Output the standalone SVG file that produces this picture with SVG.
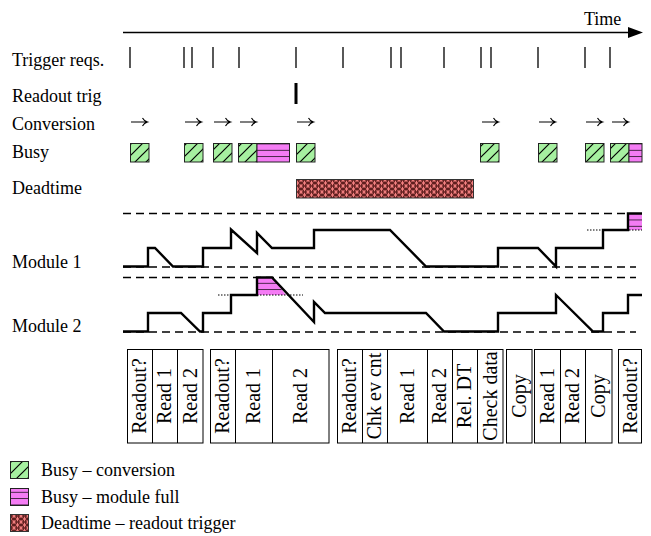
<svg xmlns="http://www.w3.org/2000/svg" width="651" height="536" viewBox="0 0 651 536" font-family="'Liberation Serif', 'DejaVu Serif', serif">
<style>
.box{font-size:20px;text-anchor:middle;font-family:'Liberation Serif','DejaVu Serif',serif}
.tick{stroke:#000;stroke-width:1.3}
.dash{stroke:#000;stroke-width:1.3;stroke-dasharray:8 5;fill:none}
.sig{stroke:#000;stroke-width:2.4;fill:none;stroke-linejoin:miter}
.cell{fill:#fff;stroke:#000;stroke-width:1}
.div{stroke:#000;stroke-width:1}
.conv{stroke:#222;stroke-width:1}
.arr{stroke:#000;stroke-width:1.1;fill:none}
</style>
<defs>
<pattern id="pg" patternUnits="userSpaceOnUse" width="11" height="11">
<rect width="11" height="11" fill="#a6f0a0"/>
<path d="M0,11 L11,0 M-2,2 L2,-2 M9,13 L13,9" stroke="#000" stroke-width="1.2"/>
</pattern>
<pattern id="pp" patternUnits="userSpaceOnUse" y="143.5" width="10" height="6.333">
<rect width="10" height="6.333" fill="#f47cf4"/>
<line x1="0" y1="0" x2="10" y2="0" stroke="#000" stroke-width="1.4"/>
</pattern>
<pattern id="pd" patternUnits="userSpaceOnUse" width="7" height="6">
<rect width="7" height="6" fill="#f48080"/>
<circle cx="0" cy="0" r="3" fill="none" stroke="#4a1010" stroke-width="0.8"/>
<circle cx="7" cy="0" r="3" fill="none" stroke="#4a1010" stroke-width="0.8"/>
<circle cx="3.5" cy="3" r="3" fill="none" stroke="#4a1010" stroke-width="0.8"/>
<circle cx="0" cy="6" r="3" fill="none" stroke="#4a1010" stroke-width="0.8"/>
<circle cx="7" cy="6" r="3" fill="none" stroke="#4a1010" stroke-width="0.8"/>
</pattern>
<path id="ar" d="M0,0H16 M11.5,-4Q13,-1 16.5,0Q13,1 11.5,4"/>
</defs>

<g id="time-axis">
<line x1="123" y1="32.5" x2="630" y2="32.5" stroke="#000" stroke-width="1.5"/>
<polygon points="628,27 643,32.5 628,38" fill="#000"/>
<text x="584" y="25" font-size="18" font-family="Liberation Serif, serif">Time</text>
</g>

<g id="labels">
<text x="12" y="66" font-size="18" font-family="Liberation Serif, serif">Trigger reqs.</text>
<text x="12" y="102" font-size="18" font-family="Liberation Serif, serif">Readout trig</text>
<text x="12" y="130" font-size="18" font-family="Liberation Serif, serif">Conversion</text>
<text x="12" y="158" font-size="18" font-family="Liberation Serif, serif">Busy</text>
<text x="12" y="194" font-size="18" font-family="Liberation Serif, serif">Deadtime</text>
<text x="12" y="268" font-size="18" font-family="Liberation Serif, serif">Module 1</text>
<text x="12" y="332" font-size="18" font-family="Liberation Serif, serif">Module 2</text>
</g>

<g id="trigger-reqs">
<path class="tick" d="M130,47V68 M184,47V68 M192,47V68 M213,47V68 M239,47V68 M296,47V68 M343,47V68 M391,47V68 M401,47V68 M444,47V68 M481,47V68 M491,47V68 M538,47V68 M585,47V68 M610,47V68"/>
</g>

<g id="readout-trig">
<rect x="294.5" y="83" width="3" height="21" fill="#000"/>
</g>

<g id="conversion" class="arr">
<use href="#ar" x="131" y="122"/>
<use href="#ar" x="185" y="122"/>
<use href="#ar" x="214" y="122"/>
<use href="#ar" x="240" y="122"/>
<use href="#ar" x="297" y="122"/>
<use href="#ar" x="482" y="122"/>
<use href="#ar" x="539" y="122"/>
<use href="#ar" x="586" y="122"/>
<use href="#ar" x="612" y="122"/>
</g>

<g id="busy">
<rect class="conv" x="130.5" y="143.5" width="18.5" height="18.5" fill="url(#pg)"/>
<rect class="conv" x="184.5" y="143.5" width="18.5" height="18.5" fill="url(#pg)"/>
<rect class="conv" x="213.5" y="143.5" width="18.5" height="18.5" fill="url(#pg)"/>
<rect class="conv" x="238.5" y="143.5" width="18.5" height="18.5" fill="url(#pg)"/>
<rect class="conv" x="257" y="143.5" width="32.5" height="18.5" fill="url(#pp)"/>
<rect class="conv" x="296.5" y="143.5" width="18.5" height="18.5" fill="url(#pg)"/>
<rect class="conv" x="480.5" y="143.5" width="18.5" height="18.5" fill="url(#pg)"/>
<rect class="conv" x="538.5" y="143.5" width="18.5" height="18.5" fill="url(#pg)"/>
<rect class="conv" x="585.5" y="143.5" width="18.5" height="18.5" fill="url(#pg)"/>
<rect class="conv" x="610.5" y="143.5" width="18.5" height="18.5" fill="url(#pg)"/>
<rect class="conv" x="629" y="143.5" width="13" height="18.5" fill="url(#pp)"/>
</g>

<g id="deadtime">
<rect x="296.5" y="179.5" width="177" height="18.5" fill="url(#pd)" stroke="#333" stroke-width="1"/>
</g>

<g id="module-1">
<path class="dash" d="M123,213.5H628 M123,267H636"/>
<rect x="628" y="213" width="14" height="17" fill="url(#pp)"/>
<line x1="587" y1="230" x2="642" y2="230" stroke="#000" stroke-width="1" stroke-dasharray="1.5 1.5"/>
<path class="sig" d="M123,266.5H148V248H155L173,266.5H203V248H231V229.5L257,253V233L272,248H314V230H390L426,266.5H498V248H538L556,266.5V248H603V230H628V213.5H642"/>
</g>

<g id="module-2">
<path class="dash" d="M123,277.5H636 M123,332H636"/>
<polygon points="257,277 272,277 286,295 257,295" fill="url(#pp)"/>
<line x1="218" y1="295" x2="303" y2="295" stroke="#000" stroke-width="1" stroke-dasharray="1.5 1.5"/>
<path class="sig" d="M123,331.5H148V313H181L200,331.5H203V313H231V295H257V277.5H272L314,322V302L325,313H426L444,331.5H498V313H556V295L593,331.5H603V313H628V295H642"/>
</g>

<g id="steps-1">
<rect class="cell" x="127.5" y="349.5" width="75.5" height="93.5"/>
<path class="div" d="M152.5,349.5V443 M177.5,349.5V443"/>
<text class="box" transform="translate(146,396) rotate(-90)">Readout?</text>
<text class="box" transform="translate(171,396) rotate(-90)">Read 1</text>
<text class="box" transform="translate(196.5,396) rotate(-90)">Read 2</text>
</g>

<g id="steps-2">
<rect class="cell" x="210.5" y="349.5" width="118.5" height="93.5"/>
<path class="div" d="M235.5,349.5V443 M272.5,349.5V443"/>
<text class="box" transform="translate(229,396) rotate(-90)">Readout?</text>
<text class="box" transform="translate(260,396) rotate(-90)">Read 1</text>
<text class="box" transform="translate(307,396) rotate(-90)">Read 2</text>
</g>

<g id="steps-3">
<rect class="cell" x="337.5" y="349.5" width="165.5" height="93.5"/>
<path class="div" d="M362.5,349.5V443 M387.5,349.5V443 M427.5,349.5V443 M452.5,349.5V443 M477.5,349.5V443"/>
<text class="box" transform="translate(356,396) rotate(-90)">Readout?</text>
<text class="box" transform="translate(381,396) rotate(-90)">Chk ev cnt</text>
<text class="box" transform="translate(413.5,396) rotate(-90)">Read 1</text>
<text class="box" transform="translate(446,396) rotate(-90)">Read 2</text>
<text class="box" transform="translate(471,396) rotate(-90)">Rel. DT</text>
<text class="box" transform="translate(496.5,396) rotate(-90)">Check data</text>
</g>

<g id="steps-4">
<rect class="cell" x="506.5" y="349.5" width="25.5" height="93.5"/>
<text class="box" transform="translate(525.5,396) rotate(-90)">Copy</text>
</g>

<g id="steps-5">
<rect class="cell" x="534.5" y="349.5" width="77.5" height="93.5"/>
<path class="div" d="M560.5,349.5V443 M585.5,349.5V443"/>
<text class="box" transform="translate(553.5,396) rotate(-90)">Read 1</text>
<text class="box" transform="translate(579,396) rotate(-90)">Read 2</text>
<text class="box" transform="translate(605,396) rotate(-90)">Copy</text>
</g>

<g id="steps-6">
<rect class="cell" x="618.5" y="349.5" width="23" height="93.5"/>
<text class="box" transform="translate(636.5,396) rotate(-90)">Readout?</text>
</g>

<g id="legend">
<rect class="conv" x="10.5" y="461.5" width="18" height="17" fill="url(#pg)"/>
<text x="41" y="476" font-size="18" font-family="Liberation Serif, serif">Busy – conversion</text>
<rect class="conv" x="10.5" y="488.5" width="18" height="17" fill="url(#pp)"/>
<text x="41" y="503" font-size="18" font-family="Liberation Serif, serif">Busy – module full</text>
<rect x="10.5" y="514.5" width="18" height="17" fill="url(#pd)" stroke="#333" stroke-width="1"/>
<text x="41" y="529" font-size="18" font-family="Liberation Serif, serif">Deadtime – readout trigger</text>
</g>
</svg>
